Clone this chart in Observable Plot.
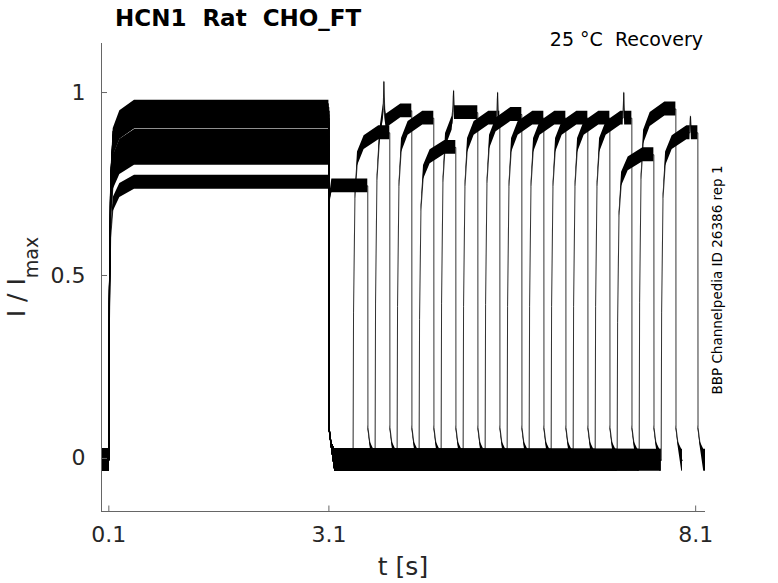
<!DOCTYPE html>
<html>
<head>
<meta charset="utf-8">
<script src="https://cdn.jsdelivr.net/npm/d3@7"></script>
<script src="https://cdn.jsdelivr.net/npm/@observablehq/plot@0.6"></script>
<style>
  html, body { margin: 0; padding: 0; background: #fff; }
  svg text.pre { white-space: pre; }
</style>
</head>
<body>
<div id="chart"></div>
<script>
// ---------- Text ----------
const titleText = "HCN1  Rat  CHO_FT";
const conditionText = "25 °C  Recovery";
const sideText = "BBP Channelpedia ID 26386 rep 1";
const xLabelText = "t [s]";
const yLabelMain = "I / I";
const yLabelSub = "max";

// ---------- Axes ----------
const xDomain = [0, 8.234];
const yDomain = [-0.145, 1.134];
const xTicks = [0.1, 3.1, 8.1];
const xTickLabels = ["0.1", "3.1", "8.1"];
const yTicks = [0, 0.5, 1];
const yTickLabels = ["0", "0.5", "1"];

// ---------- Sweeps (one per recovery interval) ----------
const traces = [0, 1, 2, 3, 4, 5, 6, 7, 8, 9, 10, 11, 12, 13, 14, 15];
const preLevels  = [0.755, 0.86, 0.95, 0.93, 0.84, 0.94, 0.93, 0.95, 0.92, 0.94, 0.93, 0.95, 0.92, 0.82, 0.96, 0.88];
const testLevels = [0.745, 0.89, 0.95, 0.93, 0.85, 0.945, 0.93, 0.94, 0.93, 0.93, 0.93, 0.93, 0.93, 0.83, 0.955, 0.89];
const testStarts = [3.10, 3.43, 3.73, 4.03, 4.33, 4.63, 4.93, 5.23, 5.53, 5.83, 6.13, 6.43, 6.73, 7.03, 7.33, 7.63];
const testEnds   = [3.63, 3.93, 4.23, 4.53, 4.83, 5.13, 5.43, 5.73, 6.03, 6.33, 6.63, 6.93, 7.23, 7.53, 7.83, 8.13];
const traceEnds  = [3.73, 4.03, 4.33, 4.63, 4.93, 5.23, 5.53, 5.83, 6.13, 6.43, 6.73, 7.03, 7.33, 7.63, 7.92, 8.24];

// pulse start / end and tail shapes
const preStart = 0.1;
const preEnd = 3.1;
const baseLevel = -0.005;
const onsetOffsets   = [0, 0.006, 0.025, 0.06, 0.15, 0.35];
const onsetFractions = [0, 0.45, 0.80, 0.92, 0.97, 1.0];
const onsetNoisy     = [false, false, false, true, true, true];
const tailOffsets = [0.002, 0.03, 0.08];
const tailValues  = [0.085, 0.04, -0.005];
const dipLevel = 0.70;

// noise half-widths
const plateauNoise = 0.019;
const baseNoise = 0.03;
const transNoise = 0.006;

// occasional spikes above the plateaus
const spikeTraces = [2, 5, 6, 12, 15];
const spikeTimes  = [3.85, 4.80, 5.40, 7.12, 8.03];
const spikeValues = [1.03, 1.005, 1.0, 1.0, 0.935];

// ---------- Build rows ----------
const rows = [];
traces.forEach((k, i) => {
  const P = preLevels[i], T = testLevels[i];
  const pts = [];
  const add = (t, v, n) => pts.push({trace: k, t, v, n});
  const onset = (t0, L) => onsetOffsets.forEach((o, j) => {
    if (j > 0) add(t0 + o, baseLevel + onsetFractions[j] * (L - baseLevel), onsetNoisy[j] ? plateauNoise : transNoise);
  });
  add(0, baseLevel, baseNoise);
  add(preStart, baseLevel, baseNoise);
  onset(preStart, P);
  add(preEnd, P, plateauNoise);
  if (testStarts[i] - preEnd < 0.05) {
    add(preEnd + tailOffsets[0], dipLevel, transNoise);
    add(preEnd + 0.04, T, plateauNoise);
  } else {
    tailOffsets.forEach((o, j) => add(preEnd + o, tailValues[j], j === tailOffsets.length - 1 ? baseNoise : transNoise));
    add(testStarts[i], baseLevel, baseNoise);
    onset(testStarts[i], T);
  }
  add(testEnds[i], T, plateauNoise);
  tailOffsets.forEach((o, j) => add(testEnds[i] + o, tailValues[j], j === tailOffsets.length - 1 ? baseNoise : transNoise));
  add(traceEnds[i], baseLevel, baseNoise);
  spikeTraces.forEach((s, j) => {
    if (s === k) {
      add(spikeTimes[j] - 0.008, T, plateauNoise);
      add(spikeTimes[j], spikeValues[j], 0.004);
      add(spikeTimes[j] + 0.012, T, plateauNoise);
    }
  });
  pts.sort((a, b) => a.t - b.t);
  rows.push(...pts);
});

const axisColor = "#666";
const textColor = "#262626";

const chart = Plot.plot({
  width: 778,
  height: 583,
  marginLeft: 101,
  marginRight: 73,
  marginTop: 43,
  marginBottom: 72,
  x: {domain: xDomain, label: null},
  y: {domain: yDomain, label: null},
  style: {fontFamily: "'DejaVu Sans', sans-serif", background: "white", color: textColor, overflow: "visible"},
  marks: [
    Plot.areaY(rows, {x: "t", y1: d => d.v - d.n, y2: d => d.v + d.n, z: "trace", fill: "#000", clip: true}),
    Plot.line(rows, {x: "t", y: "v", z: "trace", stroke: "#000", strokeWidth: 0.8, clip: true}),
    Plot.ruleX([xDomain[0]], {stroke: axisColor}),
    Plot.ruleY([yDomain[0]], {stroke: axisColor}),
    Plot.ruleX(xTicks, {y1: yDomain[0], y2: yDomain[0] + 0.015, stroke: axisColor}),
    Plot.ruleY(yTicks, {x1: xDomain[0], x2: xDomain[0] + 0.082, stroke: axisColor}),
    Plot.axisX({ticks: xTicks, tickSize: 0, tickPadding: 15, fontSize: 22, tickFormat: d => xTickLabels[xTicks.indexOf(d)], label: null}),
    Plot.axisY({ticks: yTicks, tickSize: 0, tickPadding: 16, fontSize: 22, tickFormat: d => yTickLabels[yTicks.indexOf(d)], label: null})
  ]
});

document.getElementById("chart").appendChild(chart);

const svg = d3.select(chart);
svg.append("text")
  .attr("class", "pre")
  .attr("x", 115).attr("y", 26)
  .attr("text-anchor", "start")
  .attr("font-size", 23).attr("font-weight", "bold")
  .attr("fill", "#000")
  .text(titleText);

svg.append("text")
  .attr("class", "pre")
  .attr("x", 703).attr("y", 46)
  .attr("text-anchor", "end")
  .attr("font-size", 19)
  .attr("fill", "#000")
  .text(conditionText);

svg.append("text")
  .attr("transform", "translate(722,280) rotate(-90)")
  .attr("text-anchor", "middle")
  .attr("font-size", 13.5)
  .attr("fill", "#000")
  .text(sideText);

svg.append("text")
  .attr("x", 403).attr("y", 575)
  .attr("text-anchor", "middle")
  .attr("font-size", 25)
  .attr("fill", textColor)
  .text(xLabelText);

const yl = svg.append("text")
  .attr("class", "pre")
  .attr("transform", "translate(25,277) rotate(-90)")
  .attr("text-anchor", "middle")
  .attr("font-size", 25)
  .attr("fill", textColor);
yl.append("tspan").text(yLabelMain);
yl.append("tspan").attr("font-size", 19).attr("dy", 13).text(yLabelSub);
</script>
</body>
</html>
